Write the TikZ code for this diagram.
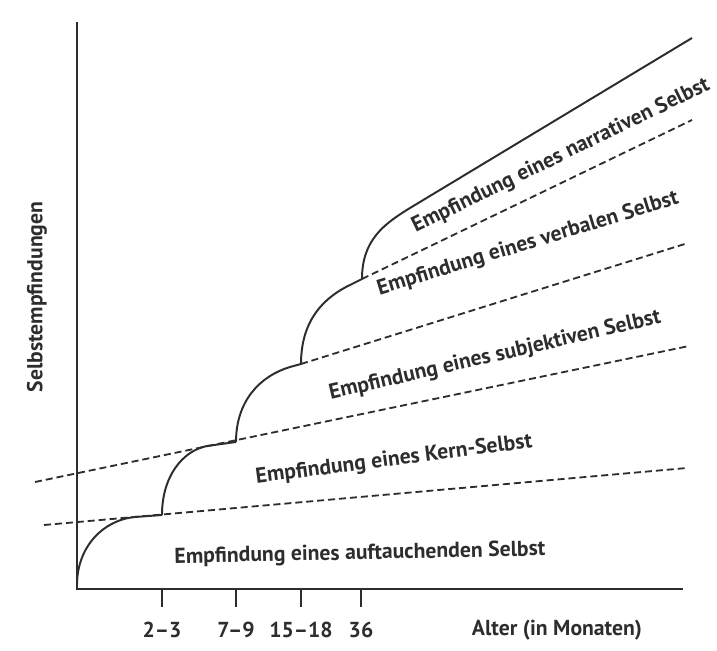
\documentclass[tikz,border=0pt]{standalone}
\usepackage{fontspec}
\setmainfont{PT Sans}
\definecolor{ink}{RGB}{45,45,45}

\begin{document}
\begin{tikzpicture}[x=0.025cm,y=0.025cm,
  axis/.style={line width=1.6pt,draw=ink},
  growth/.style={line width=1.4pt,draw=ink},
  border/.style={line width=1.3pt,dash pattern=on 5pt off 2.8pt,draw=ink},
  layer/.style={font=\fontsize{15.4}{18}\selectfont\bfseries,text=ink,inner sep=0pt}]
\useasboundingbox (0,0) rectangle (717,651);
\coordinate (o) at (77,62);
\coordinate (top) at (77,629);
\coordinate (right) at (683,62);
\draw[axis] (top) -- (o) -- (right);
\foreach \x/\lab/\n in {162/2--3/a, 236/7--9/b, 301/15--18/c, 361/36/d}{
	\draw[axis] (\x,62) -- (\x,44);
	\node[layer] (t\n) at (\x,21) {\lab};
}
\node[layer] (alter) at (557,21) {Alter (in Monaten)};
\node[layer,rotate=90] (ylab) at (37,354) {Selbstempfindungen};

\coordinate (p0) at (77,66);
\coordinate (p1) at (162,136);
\coordinate (p2) at (236,209);
\coordinate (p3) at (301,287);
\coordinate (p4) at (362,372);
\coordinate (a1) at (44,126);
\coordinate (b1) at (687,183);
\coordinate (a2) at (35,169);
\coordinate (b2) at (689,305);
\coordinate (b3) at (688,408);
\coordinate (b4) at (692,531);
\coordinate (b5) at (692,613);

\draw[border] (a1) -- (b1);
\draw[border] (a2) -- (b2);
\draw[border] (p3) -- (b3);
\draw[border] (p4) -- (b4);

\draw[growth] (p0) .. controls (77,104) and (103,131) .. (135,134) -- (p1);
\draw[growth] (p1) .. controls (162,174) and (182,200) .. (207,205) -- (p2);
\draw[growth] (p2) .. controls (236,250) and (260,275) .. (290,284) -- (p3);
\draw[growth] (p3) .. controls (301,331) and (324,354) .. (352,367) -- (p4);
\draw[growth] (p4) .. controls (362,411) and (384,427) .. (410,443) -- (b5);

\node[layer,rotate=1.2] (s0) at (360,97) {Empfindung eines auftauchenden Selbst};
\node[layer,rotate=7.4] (s1) at (394,191) {Empfindung eines Kern-Selbst};
\node[layer,rotate=13] (s2) at (495,295) {Empfindung eines subjektiven Selbst};
\node[layer,rotate=17] (s3) at (528,407) {Empfindung eines verbalen Selbst};
\node[layer,rotate=26] (s4) at (561,495) {Empfindung eines narrativen Selbst};
\end{tikzpicture}
\end{document}
